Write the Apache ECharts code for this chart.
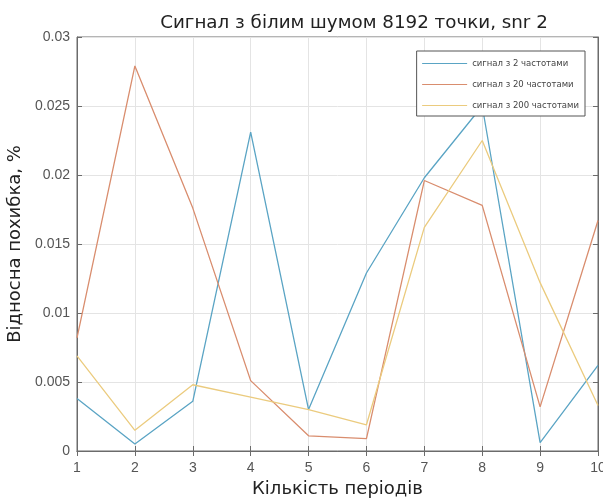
<!DOCTYPE html>
<html>
<head>
<meta charset="utf-8">
<script src="https://cdn.jsdelivr.net/npm/echarts@6/dist/echarts.min.js"></script>
<style>
  html, body { margin: 0; padding: 0; background: #fff; }
  #chart { width: 603px; height: 500px; }
</style>
</head>
<body>
<div id="chart"></div>
<script>
// кількість періодів
const periods = [1, 2, 3, 4, 5, 6, 7, 8, 9, 10];

// відносна похибка для кожного сигналу
const err2 = [0.0038, 0.0005, 0.0036, 0.0231, 0.0030, 0.0129, 0.0198, 0.0250, 0.0006, 0.0062];
const err20 = [0.0082, 0.0279, 0.0176, 0.0051, 0.0011, 0.0009, 0.0196, 0.0178, 0.0032, 0.0167];
const err200 = [0.0069, 0.0015, 0.0048, 0.0039, 0.0030, 0.0019, 0.0162, 0.0225, 0.0122, 0.0033];

const names = ['сигнал з 2 частотами', 'сигнал з 20 частотами', 'сигнал з 200 частотами'];
const colors = ['#5aa4c4', '#d98d6e', '#ebcb7e'];

let chart = echarts.init(document.querySelector('#chart'));

function pairs(vals) {
    return periods.map((p, i) => [p, vals[i]]);
}

const axisColor = '#6b6b6b';
const labelStyle = { color: '#555', fontSize: 14, fontFamily: 'Liberation Sans' };

let option = {
    animation: false,
    title: {
        text: 'Сигнал з білим шумом 8192 точки, snr 2',
        left: 349,
        top: 9,
        textAlign: 'center',
        textStyle: { fontSize: 18.3, fontWeight: 'normal', color: '#222', fontFamily: 'DejaVu Sans' }
    },
    legend: {
        right: 18,
        top: 51,
        orient: 'vertical',
        itemGap: 12,
        itemWidth: 45,
        itemHeight: 8,
        itemStyle: { opacity: 0 },
        lineStyle: { width: 1 },
        backgroundColor: '#fff',
        borderColor: '#555',
        borderWidth: 1,
        borderRadius: 0,
        padding: [8, 6, 6, 5],
        textStyle: { fontSize: 8.5, color: '#444', fontFamily: 'DejaVu Sans' },
        data: names
    },
    grid: {
        left: 77,
        right: 5,
        top: 37,
        bottom: 49,
        outerBoundsMode: 'none',
        show: true,
        borderColor: axisColor,
        borderWidth: 1
    },
    xAxis: [{
        type: 'value',
        min: 1,
        max: 10,
        interval: 1,
        name: 'Кількість періодів',
        nameLocation: 'middle',
        nameGap: 27,
        nameTextStyle: { fontSize: 18, color: '#222', fontFamily: 'DejaVu Sans' },
        axisLine: { lineStyle: { color: axisColor } },
        axisTick: { inside: true, length: 5, lineStyle: { color: axisColor } },
        axisLabel: Object.assign({ margin: 10 }, labelStyle),
        splitLine: { show: true, lineStyle: { color: '#e4e4e4' } }
    }, {
        type: 'value',
        position: 'top',
        min: 1,
        max: 10,
        interval: 1,
        axisLine: { lineStyle: { color: axisColor } },
        axisTick: { inside: true, length: 5, lineStyle: { color: axisColor } },
        axisLabel: { show: false },
        splitLine: { show: false }
    }],
    yAxis: [{
        type: 'value',
        min: 0,
        max: 0.03,
        interval: 0.005,
        name: 'Відносна похибка, %',
        nameLocation: 'middle',
        nameGap: 52,
        nameTextStyle: { fontSize: 18, color: '#222', fontFamily: 'DejaVu Sans' },
        axisLine: { show: true, lineStyle: { color: axisColor } },
        axisTick: { show: true, inside: true, length: 5, lineStyle: { color: axisColor } },
        axisLabel: Object.assign({ margin: 7, formatter: v => String(+v.toFixed(3)) }, labelStyle),
        splitLine: { show: true, lineStyle: { color: '#e4e4e4' } }
    }, {
        type: 'value',
        position: 'right',
        min: 0,
        max: 0.03,
        interval: 0.005,
        axisLine: { show: true, lineStyle: { color: axisColor } },
        axisTick: { show: true, inside: true, length: 5, lineStyle: { color: axisColor } },
        axisLabel: { show: false },
        splitLine: { show: false }
    }],
    series: [err2, err20, err200].map((vals, i) => ({
        name: names[i],
        type: 'line',
        data: pairs(vals),
        showSymbol: false,
        symbol: 'none',
        color: colors[i],
        lineStyle: { width: 1.3, color: colors[i] }
    }))
};

chart.setOption(option);
</script>
</body>
</html>
